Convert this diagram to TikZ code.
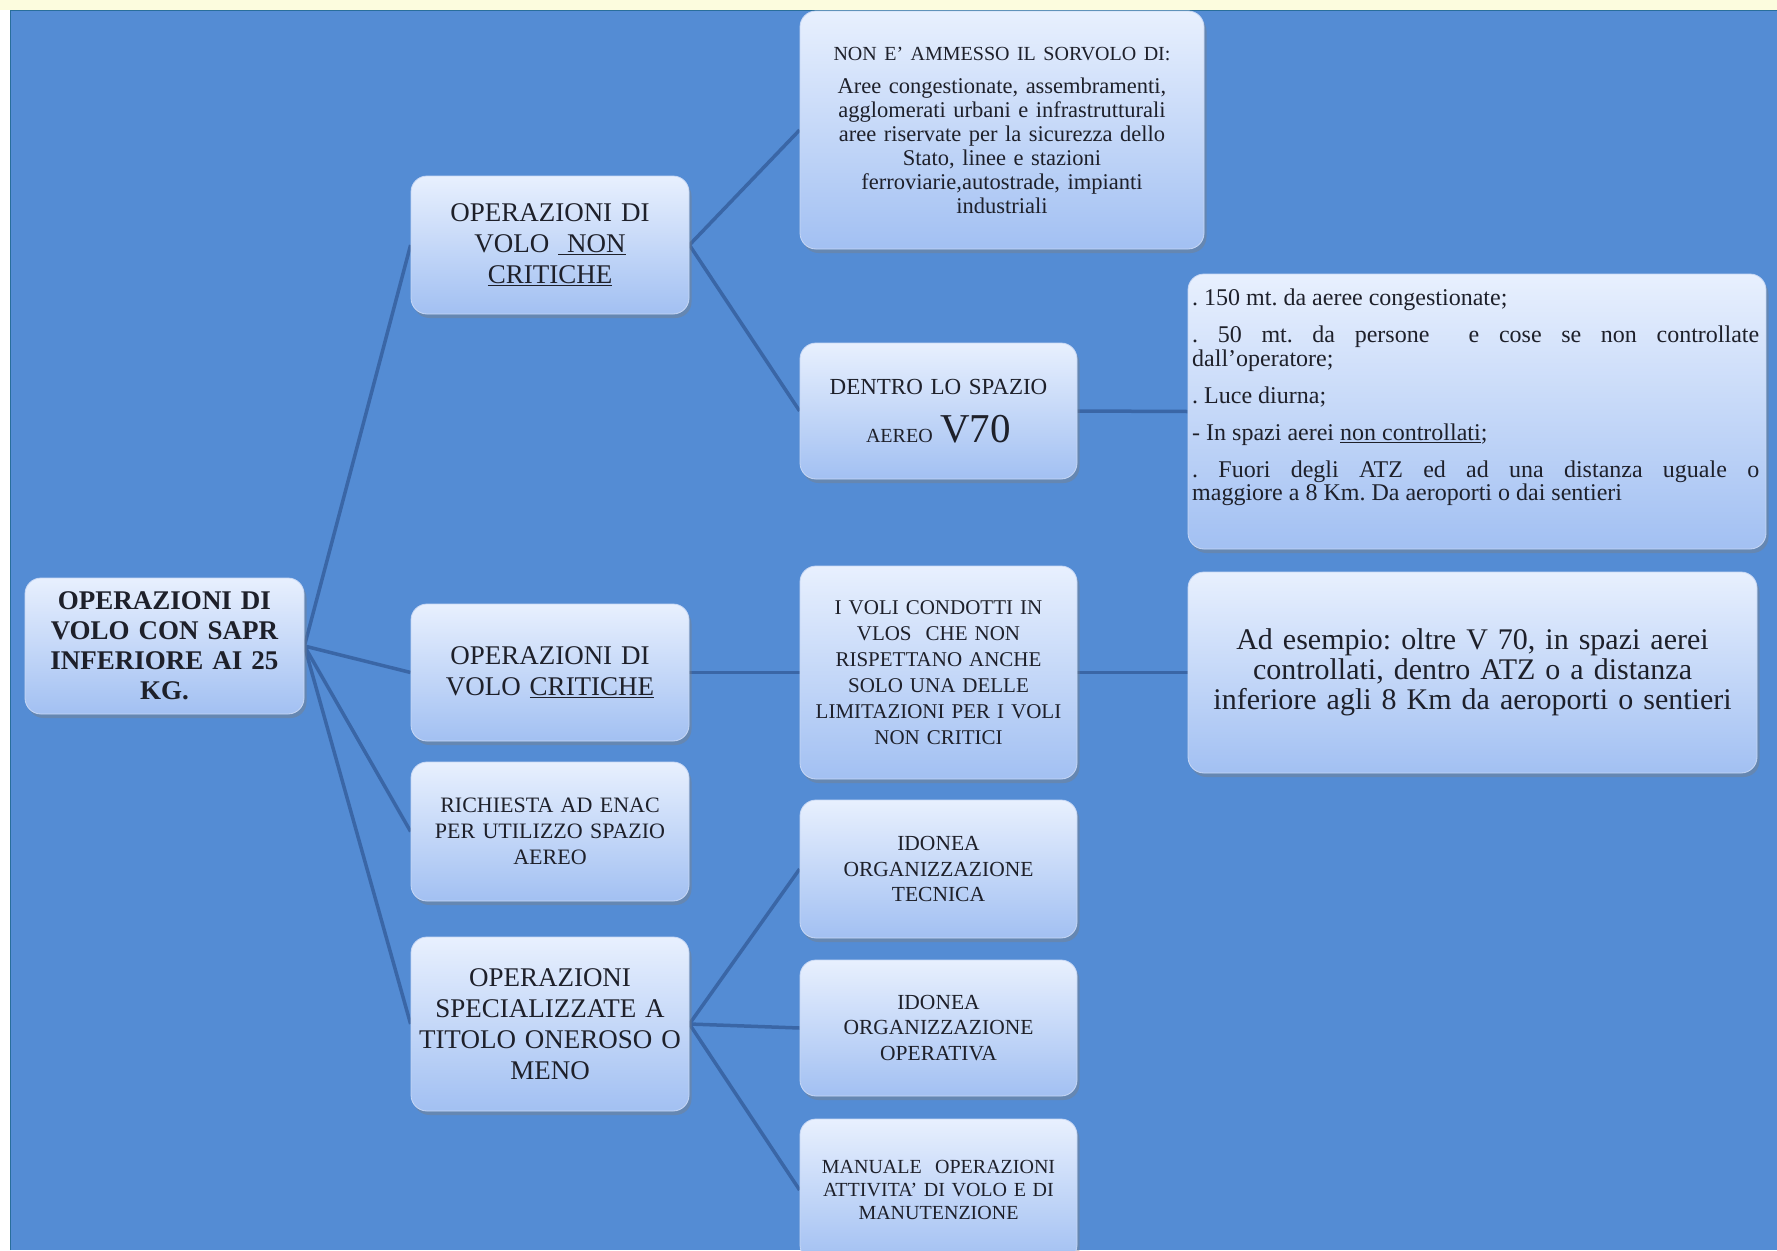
\documentclass[tikz,border=0pt]{standalone}
\usepackage{fontspec}
\setmainfont{Liberation Serif}
\usetikzlibrary{shadows}
\definecolor{bgblue}{RGB}{84,140,212}
\definecolor{edgeline}{RGB}{58,102,166}
\definecolor{boxtop}{RGB}{232,240,254}
\definecolor{boxbot}{RGB}{162,192,242}
\definecolor{boxedge}{RGB}{200,216,245}
\definecolor{txt}{RGB}{30,32,42}
\definecolor{strip}{RGB}{252,252,222}
\newcommand{\myfs}[2]{\fontsize{#1}{#2}\selectfont}
\pgfdeclarelayer{backdrop}
\pgfdeclarelayer{lines}
\pgfsetlayers{backdrop,lines,main}
\begin{document}
\frenchspacing
\begin{tikzpicture}[x=1pt,y=-1pt,
  box/.style={rectangle, rounded corners=16pt, top color=boxtop, bottom color=boxbot,
    draw=boxedge, line width=0.8pt,
    drop shadow={shadow xshift=2.5pt, shadow yshift=-4pt, opacity=0.4},
    align=center, inner sep=3pt, text=txt},
  link/.style={draw=edgeline, line width=3.5pt}]
\useasboundingbox (0,0) rectangle (1777,1250);

% nodes
\node[box, minimum width=279, minimum height=136, text width=265, font=\myfs{27}{30}\bfseries] (root) at (164.5,646)
  {OPERAZIONI DI\\VOLO CON SAPR\\INFERIORE AI 25\\KG.};
\node[box, minimum width=278, minimum height=138, text width=262, font=\myfs{27}{31}] (nc) at (550,245)
  {OPERAZIONI DI\\VOLO\ \underline{\ NON}\\\underline{CRITICHE}};
\node[box, minimum width=404, minimum height=238, text width=392, font=\myfs{22.5}{24}] (nam) at (1002,130)
  {{\myfs{20}{24}NON E' AMMESSO IL SORVOLO DI:}\\[9pt]Aree congestionate, assembramenti,\\agglomerati urbani e infrastrutturali\\aree riservate per la sicurezza dello\\Stato, linee e stazioni\\ferroviarie,autostrade, impianti\\industriali};
\node[box, minimum width=277, minimum height=136, text width=261, font=\myfs{23}{27}] (v70) at (938.5,411)
  {DENTRO LO SPAZIO\\[19pt]{\myfs{20}{24}AEREO} {\myfs{41}{44}V70}};
\node[box, minimum width=578, minimum height=275] (list) at (1477,411.5) {};
\node[anchor=north west, inner sep=0pt, text width=567, align=justify, font=\myfs{24}{23.5}, text=txt] (listtxt) at (1192,289)
  {\parindent=0pt\parskip=13.5pt\leftskip=0pt\rightskip=0pt\frenchspacing
  . 150 mt. da aeree congestionate;\par
  . 50 mt. da persone \ e cose se non controllate\linebreak dall'operatore;\par
  . Luce diurna;\par
  - In spazi aerei \underline{non controllati};\par
  . Fuori degli ATZ ed ad una distanza uguale o\linebreak maggiore a 8 Km. Da aeroporti o dai sentieri\par};
\node[box, minimum width=278, minimum height=137, text width=262, font=\myfs{27}{31}] (crit) at (550,672.5)
  {OPERAZIONI DI\\VOLO \underline{CRITICHE}};
\node[box, minimum width=277, minimum height=213, text width=265, font=\myfs{21}{26}] (voli) at (938.5,672.5)
  {I VOLI CONDOTTI IN\\VLOS \ CHE NON\\RISPETTANO ANCHE\\SOLO UNA DELLE\\LIMITAZIONI PER I VOLI\\NON CRITICI};
\node[box, minimum width=569, minimum height=201, text width=553, font=\myfs{30}{30}] (ades) at (1472.5,672.5)
  {Ad esempio: oltre V 70, in spazi aerei\\controllati, dentro ATZ o a distanza\\inferiore agli 8 Km da aeroporti o sentieri};
\node[box, minimum width=278, minimum height=139, text width=262, font=\myfs{22}{26}] (rich) at (550,831.5)
  {RICHIESTA AD ENAC\\PER UTILIZZO SPAZIO\\AEREO};
\node[box, minimum width=278, minimum height=174, text width=266, font=\myfs{27}{31}] (spec) at (550,1024)
  {OPERAZIONI\\SPECIALIZZATE A\\TITOLO ONEROSO O\\MENO};
\node[box, minimum width=277, minimum height=138, text width=261, font=\myfs{21.5}{25.5}] (tec) at (938.5,869)
  {IDONEA\\ORGANIZZAZIONE\\TECNICA};
\node[box, minimum width=277, minimum height=136, text width=261, font=\myfs{21.5}{25.5}] (oper) at (938.5,1028)
  {IDONEA\\ORGANIZZAZIONE\\OPERATIVA};
\node[box, minimum width=277, minimum height=142, text width=265, font=\myfs{20}{23}] (man) at (938.5,1190)
  {MANUALE \ OPERAZIONI\\ATTIVITA' DI VOLO E DI\\MANUTENZIONE};

% background
\begin{pgfonlayer}{backdrop}
\fill[white] (0,0) rectangle (1777,1250);
\fill[strip] (0,0) rectangle (1777,10);
\fill[bgblue] (10,10) rectangle (1777,1250);
\draw[edgeline!70!teal, line width=1.5pt] (10.5,1250) -- (10.5,10.5) -- (1777,10.5);
\end{pgfonlayer}

% connectors
\begin{pgfonlayer}{lines}
\draw[link] (root.east) -- (nc.west);
\draw[link] (root.east) -- (crit.west);
\draw[link] (root.east) -- (rich.west);
\draw[link] (root.east) -- (spec.west);
\draw[link] (nc.east) -- (nam.west);
\draw[link] (nc.east) -- (v70.west);
\draw[link] (v70.east) -- (list.west);
\draw[link] (crit.east) -- (voli.west);
\draw[link] (voli.east) -- (ades.west);
\draw[link] (spec.east) -- (tec.west);
\draw[link] (spec.east) -- (oper.west);
\draw[link] (spec.east) -- (man.west);
\end{pgfonlayer}
\end{tikzpicture}
\end{document}
